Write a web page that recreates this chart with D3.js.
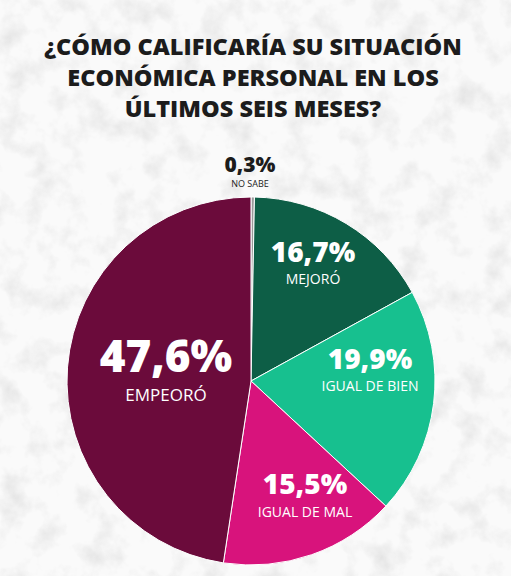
<!DOCTYPE html><html><head><meta charset="utf-8">
<script src="https://cdn.jsdelivr.net/npm/d3@7"></script>
<style>body{margin:0;background:#f2f2f2}svg{display:block}</style></head><body>
<svg id="c" width="511" height="576"></svg>
<script>
const categories=["NO SABE","MEJORÓ","IGUAL DE BIEN","IGUAL DE MAL","EMPEORÓ"];
const values=[0.3,16.7,19.9,15.5,47.6];
const labels=["0,3%","16,7%","19,9%","15,5%","47,6%"];
const colors=["#9a9a9a","#0d5e46","#17c08f","#d8137c","#6b0b3b"];
const titleLines=["¿CÓMO CALIFICARÍA SU SITUACIÓN","ECONÓMICA PERSONAL EN LOS","ÚLTIMOS SEIS MESES?"];
const svg=d3.select("#c");
const defs=svg.append("defs");
const f=defs.append("filter").attr("id","n");
f.append("feTurbulence").attr("type","fractalNoise").attr("baseFrequency",0.035).attr("numOctaves",4).attr("seed",3);
f.append("feColorMatrix").attr("type","matrix").attr("values","0 0 0 0 0.55 0 0 0 0 0.55 0 0 0 0 0.55 0 0 0 1.6 -0.75");
svg.append("rect").attr("width",511).attr("height",576).attr("fill","#fafafa");
svg.append("rect").attr("width",511).attr("height",576).attr("filter","url(#n)").attr("opacity",0.55);
svg.selectAll("text.t").data(titleLines).join("text").attr("x",253).attr("y",(d,i)=>55+i*31)
 .attr("text-anchor","middle").attr("font-family","Open Sans").attr("font-weight",800).attr("font-size",23.5)
 .attr("fill","#1c1c1c").text(d=>d);
const cx=251,cy=381,r=184;
const pie=d3.pie().sort(null).value(d=>d)(values);
const arc=d3.arc().innerRadius(0).outerRadius(r);
const g=svg.append("g").attr("transform",`translate(${cx},${cy})`);
g.selectAll("path").data(pie).join("path").attr("d",arc).attr("fill",(d,i)=>colors[i]).attr("stroke","#fff").attr("stroke-width",1);
const pos=[[250,172,21,187,9,"#1c1c1c"],[313,262,28,284,14,"#fff"],[370,369,28,391,14,"#fff"],[305,494,28,517,14,"#fff"],[166,372,44,401,17,"#fff"]];
pos.forEach((p,i)=>{
 svg.append("text").attr("x",p[0]).attr("y",p[1]).attr("text-anchor","middle").attr("font-family","Open Sans").attr("font-weight",800).attr("font-size",p[2]).attr("fill",p[5]).text(labels[i]);
 svg.append("text").attr("x",p[0]).attr("y",p[3]).attr("text-anchor","middle").attr("font-family","Open Sans").attr("font-weight",500).attr("font-size",p[4]).attr("fill",p[5]).text(categories[i]);
});
</script></body></html>
